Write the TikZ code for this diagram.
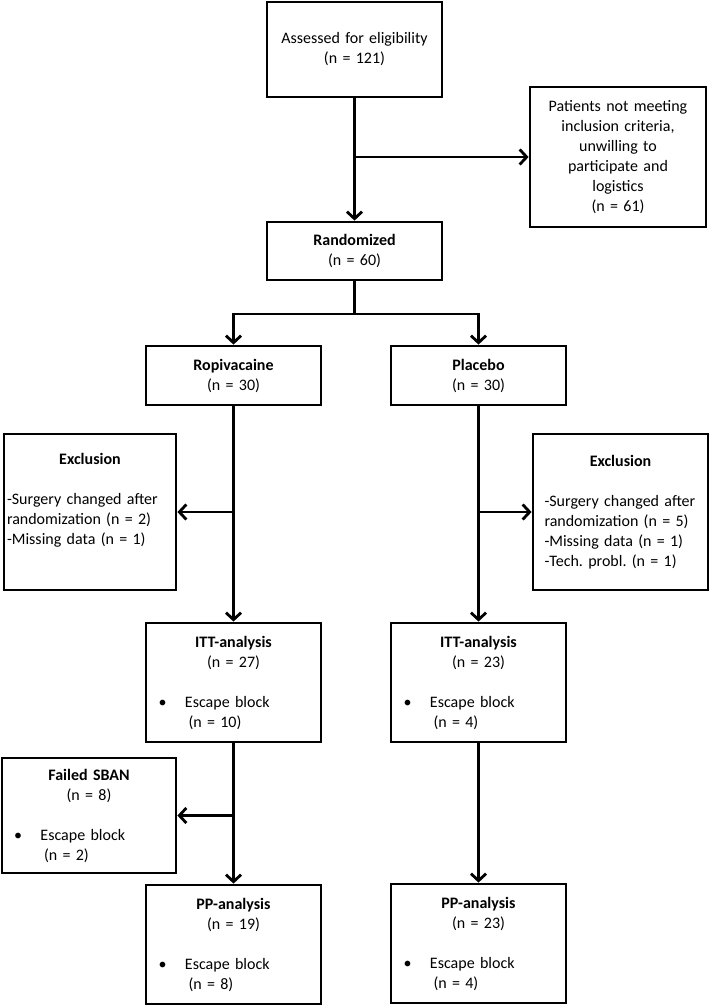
\documentclass[tikz,border=0pt]{standalone}
\usepackage{fontspec}
\setmainfont{Carlito}
\usetikzlibrary{arrows.meta}
\frenchspacing

\tikzset{
  flowbox/.style={draw, line width=2.8pt, inner xsep=0pt, inner ysep=0pt,
    text width=170pt, align=center, minimum width=175pt},
  flowline/.style={line width=2.8pt},
  flowarrow/.style={line width=2.8pt, -{Straight Barb[length=7pt,width=15pt]}}
}
\newcommand{\boxline}[2]{\makebox[170pt][l]{\hspace{#1}#2}}
\newcommand{\escapeitem}[1]{\boxline{10pt}{\makebox[26.5pt][l]{\textbullet}Escape block}\\\boxline{40pt}{#1}}

\begin{document}
\begin{tikzpicture}[x=1pt, y=-1pt, font=\fontsize{16}{20}\selectfont]
    \useasboundingbox (0,0) rectangle (709,1005);

    % Enrolment
    \node[flowbox, minimum height=95pt] (assess) at (354.5,49.5) {Assessed for eligibility\\(n = 121)};
    \node[flowbox, minimum height=140pt, minimum width=176pt] (notmeet) at (618,157)
        {Patients not meeting\\inclusion criteria,\\unwilling to\\participate and\\logistics\\(n = 61)};
    \node[flowbox, minimum height=58pt] (rand) at (354.5,251) {\textbf{Randomized}\\(n = 60)};

    % Allocation
    \node[flowbox, minimum height=59pt] (ropi) at (233.5,375.5) {\textbf{Ropivacaine}\\(n = 30)};
    \node[flowbox, minimum height=59pt] (plac) at (478.5,375.5) {\textbf{Placebo}\\(n = 30)};

    % Exclusions
    \node[flowbox, minimum height=156pt, minimum width=172pt] (exclL) at (90,512)
        {\textbf{Exclusion}\\[20pt]\boxline{2pt}{-Surgery changed after}\\\boxline{2pt}{randomization (n = 2)}\\\boxline{2pt}{-Missing data (n = 1)}\\\strut};
    \node[flowbox, minimum height=156pt] (exclR) at (620.5,512)
        {\textbf{Exclusion}\\[20pt]\boxline{9pt}{-Surgery changed after}\\\boxline{9pt}{randomization (n = 5)}\\\boxline{9pt}{-Missing data (n = 1)}\\\boxline{9pt}{-Tech. probl. (n = 1)}};

    % Analysis
    \node[flowbox, minimum height=119pt] (ittL) at (233.5,682.5) {\textbf{ITT-analysis}\\(n = 27)\\[20pt]\escapeitem{(n = 10)}};
    \node[flowbox, minimum height=119pt] (ittR) at (478.5,682.5) {\textbf{ITT-analysis}\\(n = 23)\\[20pt]\escapeitem{(n = 4)}};
    \node[flowbox, minimum height=115pt, minimum width=174pt] (fail) at (89,815.5) {\textbf{Failed SBAN}\\(n = 8)\\[20pt]\escapeitem{(n = 2)}};
    \node[flowbox, minimum height=119pt] (ppL) at (233.5,944.5) {\textbf{PP-analysis}\\(n = 19)\\[20pt]\escapeitem{(n = 8)}};
    \node[flowbox, minimum height=119pt] (ppR) at (478.5,943.5) {\textbf{PP-analysis}\\(n = 23)\\[20pt]\escapeitem{(n = 4)}};

    % Connectors
    \coordinate (split) at (354.5,314);
    \draw[flowarrow] (assess) -- (rand);
    \draw[flowarrow] (assess.south |- notmeet.west) -- (notmeet.west);
    \draw[flowline] (rand) -- (split);
    \draw[flowarrow] (split) -| (ropi.north);
    \draw[flowarrow] (split) -| (plac.north);
    \draw[flowarrow] (ropi) -- (ittL);
    \draw[flowarrow] (ropi.south |- exclL.east) -- (exclL.east);
    \draw[flowarrow] (plac) -- (ittR);
    \draw[flowarrow] (plac.south |- exclR.west) -- (exclR.west);
    \draw[flowarrow] (ittL) -- (ppL);
    \draw[flowarrow] (ittL.south |- fail.east) -- (fail.east);
    \draw[flowarrow] (ittR) -- (ppR);
\end{tikzpicture}
\end{document}
